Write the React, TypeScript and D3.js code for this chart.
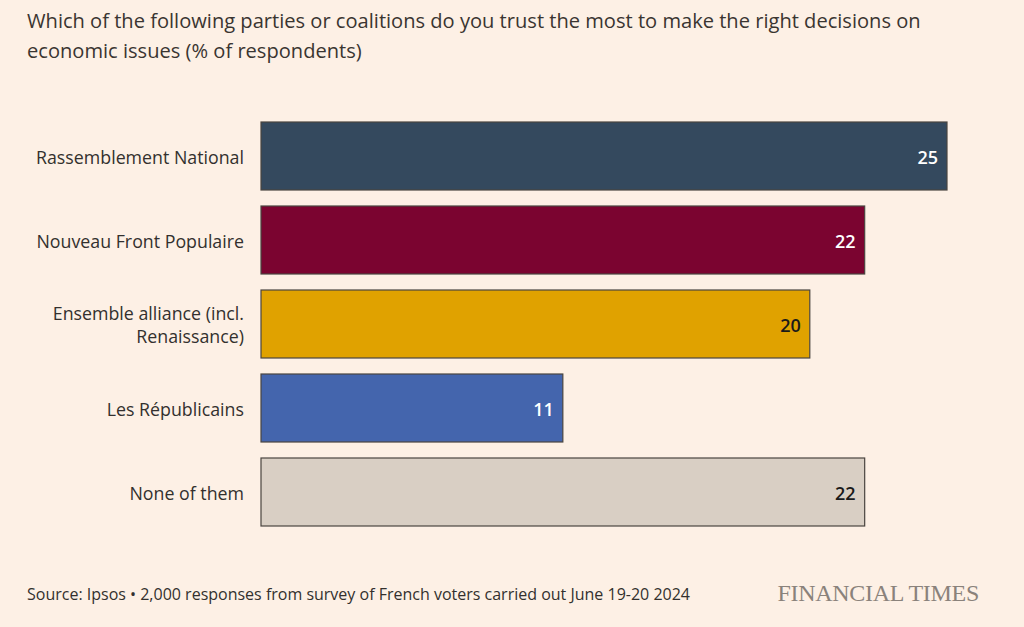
import React from "react";
import * as d3 from "d3";

const categories = [
  ["Rassemblement National"],
  ["Nouveau Front Populaire"],
  ["Ensemble alliance (incl.", "Renaissance)"],
  ["Les Républicains"],
  ["None of them"],
];
const values = [25, 22, 20, 11, 22];
const colors = ["#34495e", "#7b0430", "#e0a200", "#4465ad", "#d9cfc4"];
const labelColors = ["#ffffff", "#ffffff", "#1a1a1a", "#ffffff", "#1a1a1a"];
const titleLines = [
  "Which of the following parties or coalitions do you trust the most to make the right decisions on",
  "economic issues (% of respondents)",
];
const source = "Source: Ipsos \u2022 2,000 responses from survey of French voters carried out June 19-20 2024";

export default function App() {
  const W = 1024, H = 627;
  const x = d3.scaleLinear().domain([0, 25]).range([261, 947]);
  const y = d3
    .scaleBand<number>()
    .domain(values.map((_, i) => i))
    .range([114, 534])
    .paddingInner(16 / 84)
    .paddingOuter(8 / 84);
  const font = "'Open Sans', 'Noto Sans', sans-serif";
  return (
    <svg width={W} height={H} style={{ position: "absolute", left: 0, top: 0, display: "block" }}>
      <rect width={W} height={H} fill="#fdf0e5" />
      {titleLines.map((t, i) => (
        <text key={i} x={27} y={28 + i * 30} fontFamily={font} fontSize={20.1} fill="#3a3531">
          {t}
        </text>
      ))}
      {values.map((v, i) => {
        const y0 = y(i)!;
        const bh = y.bandwidth();
        const lines = categories[i];
        return (
          <g key={i}>
            <rect
              x={x(0)}
              y={y0}
              width={x(v) - x(0)}
              height={bh}
              fill={colors[i]}
              stroke="#4a4540"
              strokeWidth={1.2}
            />
            <text
              x={x(v) - 9}
              y={y0 + bh / 2 + 1.5}
              dy="0.36em"
              textAnchor="end"
              fontFamily={font}
              fontWeight={600}
              fontSize={18}
              fill={labelColors[i]}
            >
              {v}
            </text>
            {lines.map((l, j) => (
              <text
                key={j}
                x={244}
                y={y0 + bh / 2 + 1.5 + (j - (lines.length - 1) / 2) * 23}
                dy="0.36em"
                textAnchor="end"
                fontFamily={font}
                fontSize={17.8}
                fill="#33302e"
              >
                {l}
              </text>
            ))}
          </g>
        );
      })}
      <text x={27} y={600} fontFamily={font} fontSize={16} fill="#33302e">
        {source}
      </text>
      <text
        x={979}
        y={601}
        textAnchor="end"
        fontFamily="'Liberation Serif', 'DejaVu Serif', serif"
        fontSize={24}
        fill="#8a827b"
        letterSpacing={-0.3}
      >
        FINANCIAL TIMES
      </text>
    </svg>
  );
}
